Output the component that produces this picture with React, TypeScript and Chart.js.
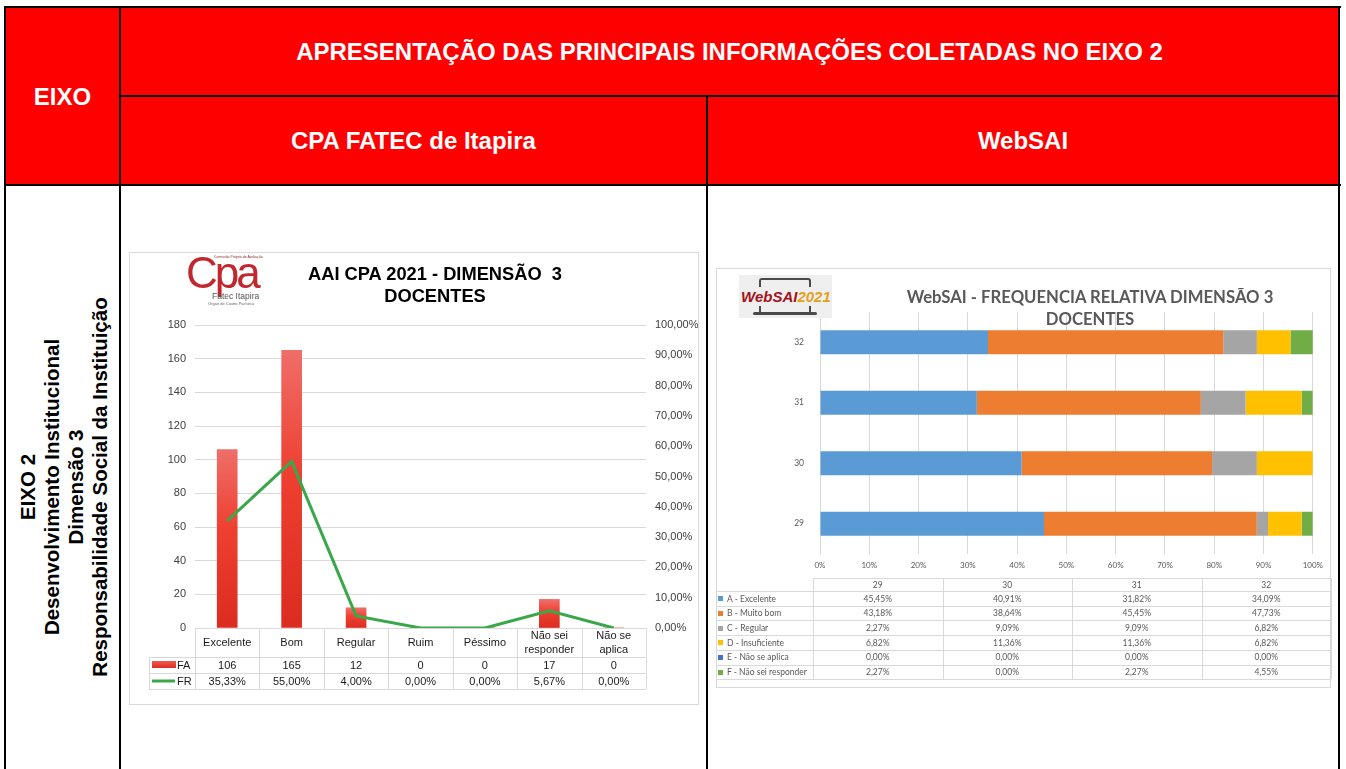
import React, { useEffect, useRef } from "react";
import { Chart, registerables } from "chart.js";

Chart.register(...registerables);

// ---------- CPA FATEC chart data ----------
const cpaCategories: string[][] = [
  ["Excelente"],
  ["Bom"],
  ["Regular"],
  ["Ruim"],
  ["Péssimo"],
  ["Não sei", "responder"],
  ["Não se", "aplica"],
];
const faValues = [106, 165, 12, 0, 0, 17, 0];
const frValues = [35.33, 55.0, 4.0, 0.0, 0.0, 5.67, 0.0];
const faAxisMax = 180;
const faAxisStep = 20;
const frAxisMax = 100;
const frAxisStep = 10;

// ---------- WebSAI chart data ----------
const webCategories = ["29", "30", "31", "32"];
const webSeriesNames = [
  "A - Excelente",
  "B - Muito bom",
  "C - Regular",
  "D - Insuficiente",
  "E - Não se aplica",
  "F - Não sei responder",
];
const webA = [45.45, 40.91, 31.82, 34.09];
const webB = [43.18, 38.64, 45.45, 47.73];
const webC = [2.27, 9.09, 9.09, 6.82];
const webD = [6.82, 11.36, 11.36, 6.82];
const webE = [0.0, 0.0, 0.0, 0.0];
const webF = [2.27, 0.0, 2.27, 4.55];
const webSeries = [webA, webB, webC, webD, webE, webF];
const webColors = ["#5b9bd5", "#ed7d31", "#a5a5a5", "#ffc000", "#4472c4", "#70ad47"];

const fmtPct = (v: number) => v.toFixed(2).replace(".", ",") + "%";
const ARIAL = '"Liberation Sans", Arial, sans-serif';
const CALIBRI = 'Lato, "Open Sans", sans-serif';

function CpaChart() {
  const ref = useRef<HTMLCanvasElement | null>(null);
  useEffect(() => {
    const canvas = ref.current;
    if (!canvas) return;

    const barFill = (c: any) => {
      const chart = c.chart;
      if (!chart.chartArea || c.type !== "data") return "#e8362a";
      const ys = chart.scales.y;
      const top = ys.getPixelForValue(c.raw);
      const bottom = ys.getPixelForValue(0);
      if (bottom - top < 1) return "#e8362a";
      const g = chart.ctx.createLinearGradient(0, top, 0, bottom);
      g.addColorStop(0, "#ef6e69");
      g.addColorStop(0.45, "#ee3f30");
      g.addColorStop(1, "#dc2b20");
      return g;
    };

    const tablePlugin = {
      id: "cpaTable",
      afterDraw(chart: any) {
        const { ctx, chartArea, scales } = chart;
        const xs = scales.x;
        const n = faValues.length;
        const left = chartArea.left;
        const right = chartArea.right;
        const step = (right - left) / n;
        const yTop = chartArea.bottom;
        const yHead = yTop + 29;
        const yFa = yHead + 16;
        const yFr = yFa + 16;
        const legL = left - 46;
        ctx.save();
        ctx.strokeStyle = "#d9d9d9";
        ctx.lineWidth = 1;
        ctx.beginPath();
        for (let i = 0; i <= n; i++) {
          const px = Math.round(left + i * step) + 0.5;
          ctx.moveTo(px, yTop);
          ctx.lineTo(px, yFr);
        }
        [yHead, yFa, yFr].forEach((y) => {
          const py = Math.round(y) + 0.5;
          ctx.moveTo(legL, py);
          ctx.lineTo(right, py);
        });
        ctx.moveTo(Math.round(legL) + 0.5, yHead);
        ctx.lineTo(Math.round(legL) + 0.5, yFr);
        ctx.stroke();

        ctx.fillStyle = "#1a1a1a";
        ctx.font = "11px " + ARIAL;
        ctx.textAlign = "center";
        ctx.textBaseline = "middle";
        faValues.forEach((v, i) => ctx.fillText(String(v), xs.getPixelForValue(i), yHead + 8.5));
        frValues.forEach((v, i) => ctx.fillText(fmtPct(v), xs.getPixelForValue(i), yFa + 8.5));

        // legend keys
        const g = ctx.createLinearGradient(0, yHead + 4, 0, yHead + 11);
        g.addColorStop(0, "#ef5a52");
        g.addColorStop(1, "#dc2b20");
        ctx.fillStyle = g;
        ctx.fillRect(legL + 3, yHead + 4, 24, 7);
        ctx.strokeStyle = "#3aa84a";
        ctx.lineWidth = 3;
        ctx.beginPath();
        ctx.moveTo(legL + 3, yFa + 8);
        ctx.lineTo(legL + 26, yFa + 8);
        ctx.stroke();
        ctx.fillStyle = "#1a1a1a";
        ctx.textAlign = "left";
        ctx.fillText("FA", legL + 28, yHead + 8.5);
        ctx.fillText("FR", legL + 28, yFa + 8.5);
        ctx.restore();
      },
    };

    const chart = new Chart(canvas, {
      type: "bar",
      data: {
        labels: cpaCategories,
        datasets: [
          {
            type: "line",
            label: "FR",
            data: frValues,
            yAxisID: "y1",
            borderColor: "#3aa84a",
            borderWidth: 3,
            pointRadius: 0,
            tension: 0,
            order: 0,
          } as any,
          {
            type: "bar",
            label: "FA",
            data: faValues,
            yAxisID: "y",
            backgroundColor: barFill,
            barThickness: 20,
            order: 1,
          } as any,
        ],
      },
      options: {
        responsive: false,
        animation: false,
        devicePixelRatio: 1,
        layout: { padding: { top: 72, bottom: 47, left: 0, right: 0 } },
        plugins: { legend: { display: false }, tooltip: { enabled: false } },
        scales: {
          x: {
            grid: { display: false },
            border: { display: false },
            ticks: {
              color: "#1a1a1a",
              font: { family: ARIAL, size: 11, lineHeight: 1.25 },
              padding: 0,
              maxRotation: 0,
              autoSkip: false,
              crossAlign: "center",
            },
            afterFit: (s: any) => {
              s.height = 29;
            },
          },
          y: {
            position: "left",
            min: 0,
            max: faAxisMax,
            ticks: { stepSize: faAxisStep, color: "#404040", font: { family: ARIAL, size: 11 }, padding: 9 },
            grid: { color: "#d9d9d9", drawTicks: false },
            border: { display: false },
            afterFit: (s: any) => {
              s.width = 65;
            },
          },
          y1: {
            position: "right",
            min: 0,
            max: frAxisMax,
            ticks: {
              stepSize: frAxisStep,
              color: "#404040",
              font: { family: ARIAL, size: 11 },
              padding: 9,
              callback: (v: any) => fmtPct(Number(v)),
            },
            grid: { drawOnChartArea: false, drawTicks: false },
            border: { display: false },
            afterFit: (s: any) => {
              s.width = 52;
            },
          },
        },
      } as any,
      plugins: [tablePlugin],
    });
    return () => chart.destroy();
  }, []);
  return (
    <canvas
      ref={ref}
      width={568}
      height={451}
      style={{ position: "absolute", left: 130, top: 253, width: 568, height: 451, display: "block" }}
    />
  );
}

function WebSaiChart() {
  const ref = useRef<HTMLCanvasElement | null>(null);
  useEffect(() => {
    const canvas = ref.current;
    if (!canvas) return;
    const chart = new Chart(canvas, {
      type: "bar",
      data: {
        labels: webCategories,
        datasets: webSeries.map((d, i) => ({
          label: webSeriesNames[i],
          data: d,
          backgroundColor: webColors[i],
          borderWidth: 0,
          categoryPercentage: 1,
          barPercentage: 0.4,
        })),
      },
      options: {
        indexAxis: "y",
        responsive: false,
        animation: false,
        devicePixelRatio: 1,
        layout: { padding: { top: 43, right: 16, bottom: 113, left: 0 } },
        plugins: { legend: { display: false }, tooltip: { enabled: false } },
        scales: {
          x: {
            stacked: true,
            min: 0,
            max: 100,
            ticks: {
              stepSize: 10,
              color: "#595959",
              font: { family: CALIBRI, size: 8 },
              padding: 7,
              callback: (v: any) => v + "%",
            },
            grid: { color: "#d9d9d9", drawTicks: false },
            border: { display: false },
            afterFit: (s: any) => {
              s.height = 20;
            },
          },
          y: {
            stacked: true,
            reverse: true,
            ticks: { color: "#595959", font: { family: CALIBRI, size: 8.5 }, padding: 8 },
            grid: { display: false },
            border: { display: false },
            afterFit: (s: any) => {
              s.width = 103;
            },
          },
        },
      } as any,
    });
    return () => chart.destroy();
  }, []);
  return (
    <canvas
      ref={ref}
      width={613}
      height={418}
      style={{ position: "absolute", left: 717, top: 269, width: 613, height: 418, display: "block" }}
    />
  );
}

function WebSaiTable() {
  const left = 716;
  const top = 578;
  const labelW = 97;
  const colW = 129.5;
  const headH = 13;
  const rowH = 14.7;
  const line = "#d9d9d9";
  const txt: React.CSSProperties = {
    position: "absolute",
    fontFamily: CALIBRI,
    fontSize: 8.5,
    color: "#595959",
    lineHeight: "1",
    whiteSpace: "nowrap",
  };
  const els: React.ReactNode[] = [];
  const tableRight = left + labelW + colW * webCategories.length;
  const bodyTop = top + headH;
  const bottom = bodyTop + rowH * webSeries.length;
  els.push(
    <div key="h0" style={{ position: "absolute", left: left + labelW, top, width: tableRight - left - labelW, height: 1, background: line }} />
  );
  for (let r = 0; r <= webSeries.length; r++) {
    els.push(
      <div key={"h" + (r + 1)} style={{ position: "absolute", left, top: Math.round(bodyTop + r * rowH), width: tableRight - left, height: 1, background: line }} />
    );
  }
  els.push(<div key="v0" style={{ position: "absolute", left, top: bodyTop, width: 1, height: bottom - bodyTop, background: line }} />);
  for (let c = 0; c <= webCategories.length; c++) {
    els.push(
      <div key={"v" + (c + 1)} style={{ position: "absolute", left: Math.round(left + labelW + c * colW), top, width: 1, height: bottom - top, background: line }} />
    );
  }
  webCategories.forEach((cat, c) => {
    els.push(
      <div key={"hc" + c} style={{ ...txt, left: left + labelW + c * colW, width: colW, textAlign: "center", top: top + 3 }}>
        {cat}
      </div>
    );
  });
  webSeries.forEach((vals, r) => {
    const y = bodyTop + r * rowH + 3.5;
    els.push(
      <div key={"lab" + r} style={{ ...txt, left: left + 2, top: y, display: "flex", alignItems: "center" }}>
        <span style={{ display: "inline-block", width: 5, height: 5, background: webColors[r], marginRight: 4 }} />
        {webSeriesNames[r]}
      </div>
    );
    vals.forEach((v, c) => {
      els.push(
        <div key={"c" + r + "_" + c} style={{ ...txt, left: left + labelW + c * colW, width: colW, textAlign: "center", top: y }}>
          {fmtPct(v)}
        </div>
      );
    });
  });
  return <>{els}</>;
}

export default function App() {
  useEffect(() => {
    document.body.style.margin = "0";
  }, []);
  const red = "#ff0000";
  const blk = "#000";
  const hdr: React.CSSProperties = {
    position: "absolute",
    background: red,
    color: "#fff",
    fontFamily: ARIAL,
    fontWeight: 700,
    fontSize: 24,
    display: "flex",
    alignItems: "center",
    justifyContent: "center",
    whiteSpace: "nowrap",
  };
  const ln = (l: number, t: number, w: number, h: number, k: string) => (
    <div key={k} style={{ position: "absolute", left: l, top: t, width: w, height: h, background: blk, zIndex: 3 }} />
  );
  return (
    <div
      style={{
        position: "absolute",
        left: 0,
        top: 0,
        width: 1346,
        height: 769,
        overflow: "hidden",
        background: "#fff",
        fontFamily: ARIAL,
      }}
    >
      {/* header cells */}
      <div style={{ ...hdr, left: 6, top: 8, width: 113, height: 177 }}>EIXO</div>
      <div style={{ ...hdr, left: 121, top: 8, width: 1217, height: 87 }}>
        APRESENTAÇÃO DAS PRINCIPAIS INFORMAÇÕES COLETADAS NO EIXO 2
      </div>
      <div style={{ ...hdr, left: 121, top: 97, width: 585, height: 88 }}>CPA FATEC de Itapira</div>
      <div style={{ ...hdr, left: 708, top: 97, width: 630, height: 88 }}>WebSAI</div>

      {/* table lines */}
      {ln(4, 6, 1337, 2, "t")}
      {ln(4, 6, 2, 763, "l")}
      {ln(1338, 6, 2, 763, "r")}
      {ln(119, 6, 2, 763, "d1")}
      {ln(119, 95, 1221, 2, "d2")}
      {ln(706, 95, 2, 674, "d3")}
      {ln(4, 184, 1337, 2, "hb")}

      {/* vertical row label */}
      <div
        style={{
          position: "absolute",
          left: 64,
          top: 487,
          transform: "translate(-50%, -50%) rotate(-90deg)",
          whiteSpace: "nowrap",
          textAlign: "center",
          fontFamily: ARIAL,
          fontWeight: 700,
          fontSize: 20.5,
          lineHeight: "24px",
          color: "#000",
        }}
      >
        <div>EIXO 2</div>
        <div>Desenvolvimento Institucional</div>
        <div>Dimensão 3</div>
        <div>Responsabilidade Social da Instituição</div>
      </div>

      {/* CPA chart box */}
      <div style={{ position: "absolute", left: 129, top: 252, width: 568, height: 451, border: "1px solid #d9d9d9" }} />
      <CpaChart />
      {/* CPA logo */}
      <div style={{ position: "absolute", left: 186, top: 254, width: 82, height: 54, background: "#fff", zIndex: 2 }}>
        <div style={{ position: "absolute", left: 28, top: 1, fontSize: 3.5, color: "#8a2a2a", whiteSpace: "nowrap" }}>
          Comissão Própria de Avaliação
        </div>
        <div
          style={{
            position: "absolute",
            left: 0,
            top: -6,
            fontFamily: ARIAL,
            fontSize: 44,
            color: "#c1272d",
            letterSpacing: -3,
            lineHeight: "50px",
          }}
        >
          Cpa
        </div>
        <div style={{ position: "absolute", left: 26, top: 37, fontSize: 8.5, color: "#555", whiteSpace: "nowrap" }}>
          Fatec Itapira
        </div>
        <div style={{ position: "absolute", left: 22, top: 47, fontSize: 4, color: "#666", whiteSpace: "nowrap" }}>
          Orgari de Castro Pacheco
        </div>
      </div>
      <div
        style={{
          position: "absolute",
          left: 300,
          top: 263,
          width: 270,
          textAlign: "center",
          fontFamily: ARIAL,
          fontWeight: 700,
          fontSize: 18.3,
          lineHeight: "22px",
          color: "#000",
          whiteSpace: "pre",
          zIndex: 2,
        }}
      >
        {"AAI CPA 2021 - DIMENSÃO  3\nDOCENTES"}
      </div>

      {/* WebSAI chart box */}
      <div style={{ position: "absolute", left: 716, top: 268, width: 613, height: 418, border: "1px solid #d9d9d9" }} />
      <WebSaiChart />
      <div style={{ position: "absolute", left: 0, top: 0, zIndex: 2 }}>
        <WebSaiTable />
      </div>
      {/* WebSAI logo */}
      <div style={{ position: "absolute", left: 739, top: 275, width: 93, height: 43, background: "#efefef", zIndex: 2 }}>
        <div
          style={{
            position: "absolute",
            left: 20,
            top: 3,
            width: 52,
            height: 9,
            borderTop: "2px solid #4a4a4a",
            borderLeft: "2px solid #4a4a4a",
            borderRight: "2px solid #4a4a4a",
            borderRadius: "3px 3px 0 0",
            boxSizing: "border-box",
          }}
        />
        <div
          style={{
            position: "absolute",
            left: 20,
            top: 31,
            width: 52,
            height: 6,
            borderLeft: "2px solid #4a4a4a",
            borderRight: "2px solid #4a4a4a",
            boxSizing: "border-box",
          }}
        />
        <div style={{ position: "absolute", left: 14, top: 37, width: 64, height: 3, background: "#4a4a4a", borderRadius: 2 }} />
        <div
          style={{
            position: "absolute",
            left: 2,
            top: 13,
            fontFamily: ARIAL,
            fontStyle: "italic",
            fontWeight: 700,
            fontSize: 15,
            lineHeight: "17px",
            whiteSpace: "nowrap",
          }}
        >
          <span style={{ color: "#a3121a" }}>WebSAI</span>
          <span style={{ color: "#e3a21a" }}>2021</span>
        </div>
      </div>
      <div
        style={{
          position: "absolute",
          left: 890,
          top: 286,
          width: 400,
          textAlign: "center",
          fontFamily: CALIBRI,
          fontWeight: 700,
          fontSize: 16.7,
          lineHeight: "22px",
          color: "#595959",
          whiteSpace: "pre",
          zIndex: 2,
        }}
      >
        {"WebSAI - FREQUENCIA RELATIVA DIMENSÃO 3\nDOCENTES"}
      </div>
    </div>
  );
}
